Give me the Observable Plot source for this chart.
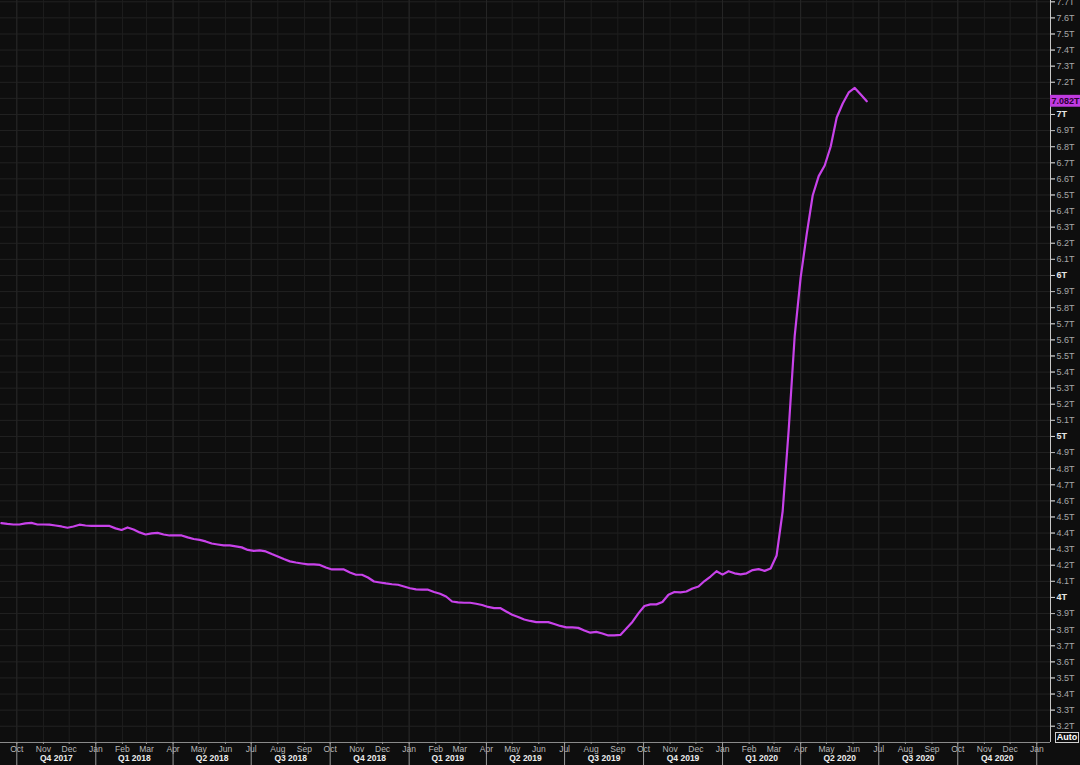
<!DOCTYPE html>
<html><head><meta charset="utf-8">
<script src="https://cdn.jsdelivr.net/npm/d3@7"></script>
<script src="https://cdn.jsdelivr.net/npm/@observablehq/plot@0.6"></script>
<style>
html,body{margin:0;padding:0;background:#0e0e0e;}
#wrap{position:relative;width:1080px;height:765px;overflow:hidden;background:#0e0e0e;}
#auto{position:absolute;left:1055px;top:732px;width:22px;height:9px;border:1px solid #cfcfcf;color:#fff;font:bold 9px "Liberation Sans",Arial,sans-serif;line-height:9px;text-align:center;z-index:2;}
svg{display:block;}
</style></head><body><div id="wrap"></div>
<script>
// Weekly total assets (trillions USD), first week 2017-09-13
const startWeek = "2017-09-13";
const values = [
4.462,4.457,4.453,4.453,4.460,4.463,4.453,4.453,4.452,4.447,
4.441,4.433,4.441,4.452,4.447,4.445,4.445,4.445,4.444,4.429,
4.419,4.435,4.422,4.404,4.391,4.398,4.401,4.391,4.385,4.385,
4.385,4.373,4.363,4.358,4.348,4.335,4.329,4.323,4.323,4.317,
4.311,4.295,4.289,4.292,4.286,4.270,4.255,4.239,4.224,4.217,
4.211,4.205,4.205,4.202,4.186,4.174,4.174,4.174,4.155,4.141,
4.141,4.124,4.099,4.093,4.087,4.082,4.079,4.068,4.057,4.050,
4.048,4.048,4.034,4.023,4.006,3.975,3.969,3.967,3.967,3.961,
3.953,3.941,3.934,3.934,3.913,3.893,3.879,3.863,3.854,3.847,
3.847,3.847,3.835,3.823,3.814,3.814,3.811,3.795,3.781,3.786,
3.776,3.764,3.764,3.767,3.807,3.848,3.901,3.947,3.957,3.957,
3.972,4.017,4.034,4.031,4.037,4.056,4.068,4.102,4.130,4.163,
4.142,4.163,4.150,4.143,4.150,4.170,4.176,4.165,4.180,4.261,
4.534,5.037,5.621,5.988,6.255,6.497,6.617,6.683,6.801,6.981,
7.068,7.137,7.165,7.124,7.082
];
const lastLabel = "7.082T";

const yTicks = [3.2,3.3,3.4,3.5,3.6,3.7,3.8,3.9,4,4.1,4.2,4.3,4.4,4.5,4.6,4.7,4.8,4.9,5,5.1,5.2,5.3,5.4,5.5,5.6,5.7,5.8,5.9,6,6.1,6.2,6.3,6.4,6.5,6.6,6.7,6.8,6.9,7,7.1,7.2,7.3,7.4,7.5,7.6,7.7];
const yMajor = [4,5,6,7];
const yHidden = [7.1]; // covered by the last-value tag
const monthTicks = ["2017-10-01","2017-11-01","2017-12-01","2018-01-01","2018-02-01","2018-03-01","2018-04-01","2018-05-01","2018-06-01","2018-07-01","2018-08-01","2018-09-01","2018-10-01","2018-11-01","2018-12-01","2019-01-01","2019-02-01","2019-03-01","2019-04-01","2019-05-01","2019-06-01","2019-07-01","2019-08-01","2019-09-01","2019-10-01","2019-11-01","2019-12-01","2020-01-01","2020-02-01","2020-03-01","2020-04-01","2020-05-01","2020-06-01","2020-07-01","2020-08-01","2020-09-01","2020-10-01","2020-11-01","2020-12-01","2021-01-01"];
const quarterStarts = ["2017-10-01","2018-01-01","2018-04-01","2018-07-01","2018-10-01","2019-01-01","2019-04-01","2019-07-01","2019-10-01","2020-01-01","2020-04-01","2020-07-01","2020-10-01","2021-01-01"];
const quarterLabels = ["Q4 2017","Q1 2018","Q2 2018","Q3 2018","Q4 2018","Q1 2019","Q2 2019","Q3 2019","Q4 2019","Q1 2020","Q2 2020","Q3 2020","Q4 2020"];

const xDomain = [new Date("2017-09-12"), new Date("2021-01-17")];
const yDomain = [3.099, 7.708];

const start = new Date(startWeek);
const data = values.map((v, i) => ({date: d3.utcDay.offset(start, 7 * i), value: v}));
const months = monthTicks.map(d => new Date(d));
const qStarts = quarterStarts.map(d => new Date(d));
const quarters = quarterLabels.map((t, i) => ({
  mid: new Date((qStarts[i].getTime() + qStarts[i + 1].getTime()) / 2), label: t
}));
const last = data[data.length - 1];
const minor = yTicks.filter(t => !yMajor.includes(t) && !yHidden.includes(t));
const fmt = d => (Number.isInteger(d) ? d : d.toFixed(1)) + "T";

const lineColor = "#c842ea";
const font = "'Liberation Sans', Arial, sans-serif";

const chart = Plot.plot({
  width: 1080,
  height: 765,
  marginLeft: 0,
  marginRight: 30,
  marginTop: 0,
  marginBottom: 23,
  style: {background: "#0e0e0e", color: "#b8b8b8", fontFamily: font, fontSize: "9px"},
  x: {type: "utc", domain: xDomain, axis: null},
  y: {domain: yDomain, axis: null},
  marks: [
    Plot.gridY({ticks: yTicks, stroke: "#222222", strokeOpacity: 1}),
    Plot.gridX({ticks: months, stroke: "#1e1e1e", strokeOpacity: 1}),
    Plot.gridX({ticks: qStarts, stroke: "#262626", strokeOpacity: 1}),
    Plot.ruleY([yDomain[0]], {stroke: "#8a8a8a"}),
    Plot.ruleX([xDomain[1]], {stroke: "#c8c8c8"}),
    Plot.axisY({anchor: "right", ticks: yTicks, tickFormat: () => "", tickSize: 4, label: null, stroke: "#b0b0b0"}),
    Plot.axisY({anchor: "right", ticks: minor, tickFormat: fmt, tickSize: 4, tickPadding: 2, label: null, stroke: "#b0b0b0", fill: "#a8a8a8", fontSize: 9}),
    Plot.axisY({anchor: "right", ticks: yMajor, tickFormat: fmt, tickSize: 4, tickPadding: 2, label: null, stroke: "#d0d0d0", fill: "#e8e8e8", fontWeight: "bold", fontSize: 9}),
    Plot.axisX({anchor: "bottom", ticks: months, tickFormat: d3.utcFormat("%b"), tickSize: 2, tickPadding: 1, label: null, stroke: "#9a9a9a", fill: "#b8b8b8", fontSize: 8.5}),
    Plot.axisX({anchor: "bottom", ticks: qStarts, tickFormat: () => "", tickSize: 23, tickPadding: 0, label: null, stroke: "#9a9a9a"}),
    Plot.text(quarters, {x: "mid", text: "label", frameAnchor: "bottom", dy: 18.5, fill: "#ececec", fontWeight: "bold", fontSize: 8.5}),
    Plot.line(data, {x: "date", y: "value", stroke: lineColor, strokeWidth: 2.2}),
    Plot.rect([last], {x1: () => xDomain[1], x2: () => xDomain[1], insetLeft: 0, insetRight: -30, y1: d => d.value - 0.037, y2: d => d.value + 0.037, fill: "#c03ae0"}),
    Plot.text([last], {x: () => xDomain[1], y: "value", text: () => lastLabel, textAnchor: "start", dx: 1, fill: "#2a0033", fontWeight: "bold", fontSize: 9})
  ]
});
const wrap = document.getElementById("wrap");
wrap.appendChild(chart);
const auto = document.createElement("div");
auto.id = "auto";
auto.textContent = "Auto";
wrap.appendChild(auto);
</script></body></html>
